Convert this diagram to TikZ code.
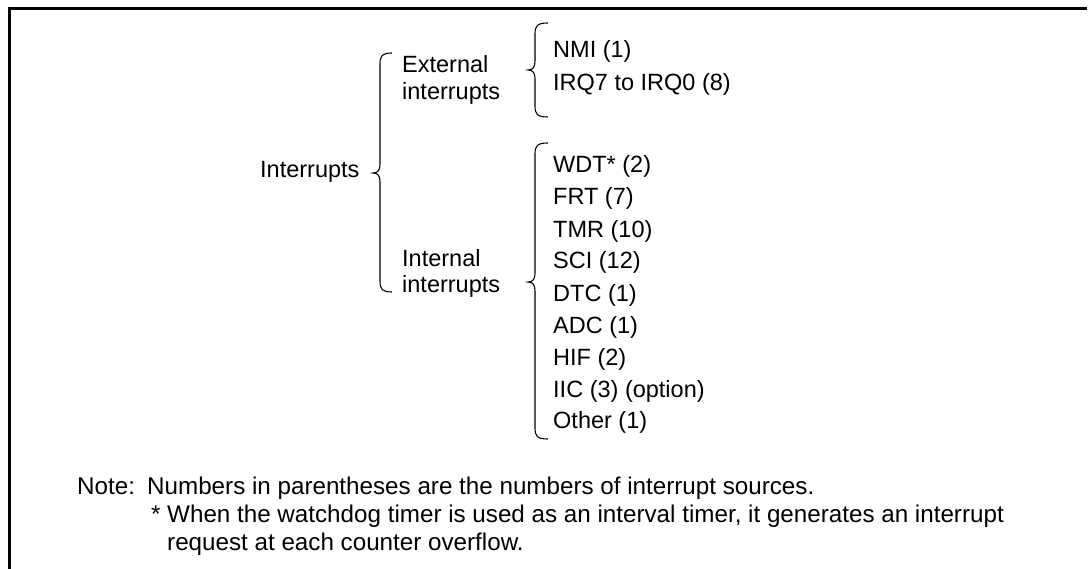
\documentclass[tikz,border=0pt]{standalone}
\usepackage{fontspec}
\setmainfont{Liberation Sans}
\newcommand\mybrace[6]{% #1 xr, #2 xv, #3 xt, #4 ytop, #5 ytip, #6 ybot
  \draw[brace] (#1,#4) .. controls (#2+2,#4) and (#2,#4+3) .. (#2,#4+11)
    -- (#2,#5-9) .. controls (#2,#5-3) and (#2-2,#5) .. (#3,#5)
    .. controls (#2-2,#5) and (#2,#5+3) .. (#2,#5+9)
    -- (#2,#6-11) .. controls (#2,#6-3) and (#2+2,#6) .. (#1,#6);}
\begin{document}
\begin{tikzpicture}[x=1pt,y=-1pt,
  lbl/.style={anchor=base west, inner sep=0pt, font=\fontsize{23.5}{28}\selectfont},
  notelbl/.style={anchor=base west, inner sep=0pt, font=\fontsize{24.2}{28}\selectfont},
  frame/.style={line width=3pt},
  brace/.style={line width=1.1pt}]
\useasboundingbox (0,0) rectangle (1091,569);
\draw[frame] (9,569) -- (9,8.5) -- (1087,8.5);
% labels
\node[lbl] (intr) at (260,178) {Interrupts};
\node[lbl] (ext1) at (402,73) {External};
\node[lbl] (ext2) at (402,100) {interrupts};
\node[lbl] (int1) at (402,266) {Internal};
\node[lbl] (int2) at (402,292) {interrupts};
\node[lbl] (nmi) at (553,58) {NMI (1)};
\node[lbl] (irq) at (553,91) {IRQ7 to IRQ0 (8)};
\node[lbl] (wdt) at (553,173) {WDT* (2)};
\node[lbl] (frt) at (553,205) {FRT (7)};
\node[lbl] (tmr) at (553,237) {TMR (10)};
\node[lbl] (sci) at (553,269) {SCI (12)};
\node[lbl] (dtc) at (553,301) {DTC (1)};
\node[lbl] (adc) at (553,333) {ADC (1)};
\node[lbl] (hif) at (553,365) {HIF (2)};
\node[lbl] (iic) at (553,397) {IIC (3) (option)};
\node[lbl] (oth) at (553,428) {Other (1)};
% braces
\mybrace{392}{380}{373}{53}{173}{292}
\mybrace{548}{535}{528}{23}{70}{117}
\mybrace{548}{535}{528}{143}{282}{439}
% note
\node[notelbl] (note) at (77,494) {Note:};
\node[notelbl] (n1) at (147,494) {Numbers in parentheses are the numbers of interrupt sources.};
\node[notelbl] (ast) at (151,522) {*};
\node[notelbl] (n2) at (167,522) {When the watchdog timer is used as an interval timer, it generates an interrupt};
\node[notelbl] (n3) at (167,550) {request at each counter overflow.};
\end{tikzpicture}
\end{document}
